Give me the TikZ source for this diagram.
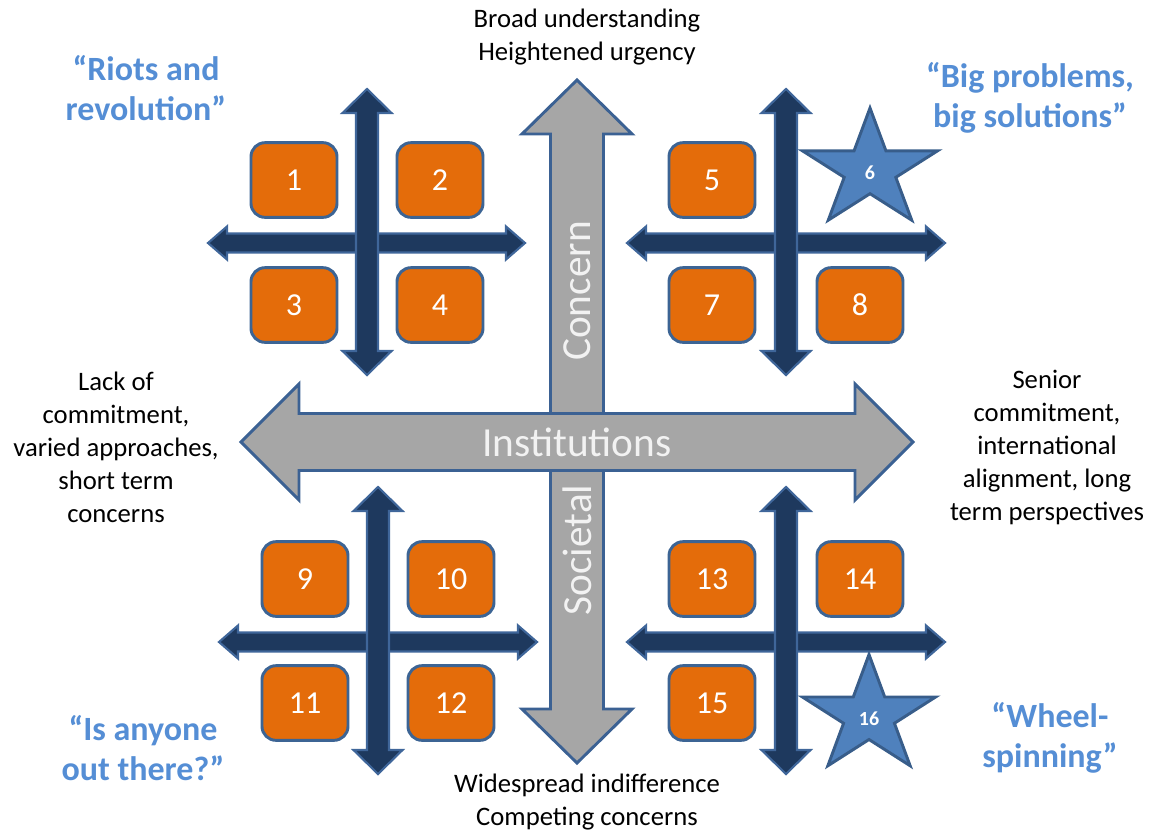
\documentclass[tikz,border=0pt]{standalone}
\usepackage{fontspec}
\setmainfont{Carlito}
\usepackage{tikz}

\definecolor{arrowgray}{HTML}{A6A6A6}
\definecolor{arrowedge}{HTML}{3B6193}
\definecolor{navy}{HTML}{1E395E}
\definecolor{navyedge}{HTML}{3F669A}
\definecolor{boxorange}{HTML}{E46C0A}
\definecolor{boxedge}{HTML}{3C6494}
\definecolor{starblue}{HTML}{4F81BD}
\definecolor{staredge}{HTML}{385D8A}
\definecolor{quoteblue}{HTML}{558ED5}
\definecolor{labelwhite}{HTML}{F2F2F2}

% double headed arrows: {style}{centre}{start}{end}{shaft half}{head half}{head length}
\newcommand{\vertarrow}[7]{%
  \draw[#1] (#2,#3) -- ({#2+#6},{#3+#7}) -- ({#2+#5},{#3+#7}) -- ({#2+#5},{#4-#7})
    -- ({#2+#6},{#4-#7}) -- (#2,#4) -- ({#2-#6},{#4-#7}) -- ({#2-#5},{#4-#7})
    -- ({#2-#5},{#3+#7}) -- ({#2-#6},{#3+#7}) -- cycle;}
\newcommand{\horzarrow}[7]{%
  \draw[#1] (#3,#2) -- ({#3+#7},{#2-#6}) -- ({#3+#7},{#2-#5}) -- ({#4-#7},{#2-#5})
    -- ({#4-#7},{#2-#6}) -- (#4,#2) -- ({#4-#7},{#2+#6}) -- ({#4-#7},{#2+#5})
    -- ({#3+#7},{#2+#5}) -- ({#3+#7},{#2+#6}) -- cycle;}
% five point star stretched to its box: {centre x}{centre y}{x radius}{y radius}
\newcommand{\bluestar}[4]{%
  \draw[starshape] (#1,#2) +(-90:#3 and #4)
    \foreach \k in {0,...,4} { -- +({-54+72*\k}:{0.382*#3} and {0.382*#4}) -- +({-18+72*\k}:#3 and #4) } -- cycle;}

\tikzset{
  bigarrow/.style={fill=arrowgray, draw=arrowedge, line width=2.2pt},
  smallarrow/.style={fill=navy, draw=navyedge, line width=1.6pt},
  starshape/.style={fill=starblue, draw=staredge, line width=2.2pt},
  numbox/.style={rectangle, rounded corners=10.5pt, fill=boxorange, draw=boxedge,
    line width=2.2pt, minimum width=64.5pt, minimum height=56pt, text=white,
    font=\fontsize{24}{28}\selectfont},
  starnum/.style={text=white, font=\fontsize{15}{18}\selectfont\bfseries},
  plain/.style={align=center, font=\fontsize{20}{24.75}\selectfont},
  quote/.style={align=center, text=quoteblue, font=\fontsize{25.5}{30}\selectfont\bfseries},
  axislabel/.style={text=labelwhite, font=\fontsize{31}{36}\selectfont}
}

\begin{document}
\begin{tikzpicture}[x=0.75pt,y=-0.75pt]
    \useasboundingbox (0,0) rectangle (1150,833);

    % main axes
    \vertarrow{bigarrow}{577}{80}{763}{26.5}{55}{54}
    \horzarrow{bigarrow}{442}{241}{913}{28.5}{58}{58}
    \node[axislabel] (inst) at (577,442) {Institutions};
    \node[axislabel, rotate=90] (concern) at (577,291) {Concern};
    \node[axislabel, rotate=90] (soc) at (577,550) {Societal};

    % quadrant crosses
    \horzarrow{smallarrow}{243}{208}{525}{9.5}{16.5}{19}
    \vertarrow{smallarrow}{367}{89}{375}{11}{24.5}{24}
    \horzarrow{smallarrow}{243}{627}{945}{9.5}{16.5}{19}
    \vertarrow{smallarrow}{786}{89}{375}{11}{24.5}{24}
    \horzarrow{smallarrow}{642}{219}{537}{9.5}{16.5}{19}
    \vertarrow{smallarrow}{378}{487}{774}{11}{24.5}{24}
    \horzarrow{smallarrow}{642}{627}{945}{9.5}{16.5}{19}
    \vertarrow{smallarrow}{786}{487}{774}{11}{24.5}{24}

    \begin{scope}[every node/.style={numbox}]
        \node (b1) at (294,180) {1};
        \node (b2) at (440,180) {2};
        \node (b3) at (294,305) {3};
        \node (b4) at (440,305) {4};
        \node (b5) at (712,180) {5};
        \node (b7) at (712,305) {7};
        \node (b8) at (860,305) {8};
        \node (b9) at (305,579) {9};
        \node (b10) at (451,579) {10};
        \node (b11) at (305,703) {11};
        \node (b12) at (451,703) {12};
        \node (b13) at (712,579) {13};
        \node (b14) at (860,579) {14};
        \node (b15) at (712,703) {15};
    \end{scope}

    \bluestar{870}{170}{71}{62}
    \bluestar{869}{716}{70}{61.5}
    \node[starnum] (s6) at (870,173) {6};
    \node[starnum] (s16) at (869,719) {16};

    \begin{scope}[every node/.style={plain}]
        \node (top) at (587,37) {Broad understanding\\Heightened urgency};
        \node (bottom) at (587,802) {Widespread indifference\\Competing concerns};
        \node (left) at (116,447) {Lack of\\commitment,\\varied approaches,\\short term\\concerns};
        \node (right) at (1047,447) {Senior\\commitment,\\international\\alignment, long\\term perspectives};
    \end{scope}

    \begin{scope}[every node/.style={quote}]
        \node (riots) at (146,88) {“Riots and\\revolution”};
        \node (big) at (1030,98) {“Big problems,\\big solutions”};
        \node (anyone) at (143,748) {“Is anyone\\out there?”};
        \node (wheel) at (1050,738) {“Wheel-\\spinning”};
    \end{scope}
\end{tikzpicture}
\end{document}
